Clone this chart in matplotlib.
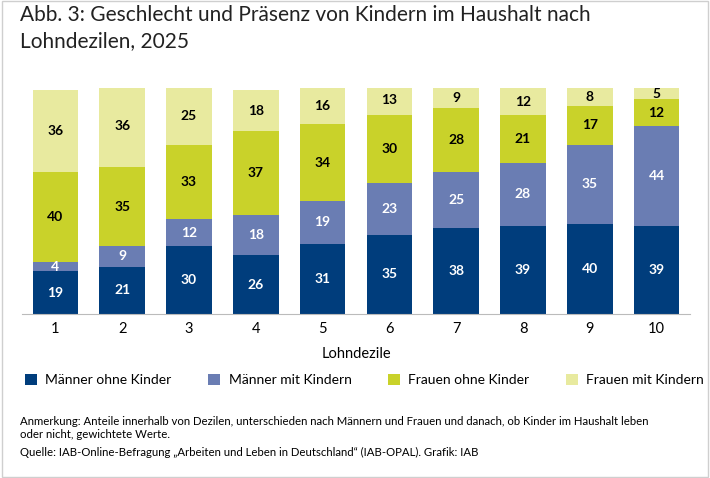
import matplotlib
matplotlib.use("Agg")
import matplotlib.pyplot as plt
from matplotlib.patches import Rectangle

plt.rcParams['font.family'] = ['Lato', 'DejaVu Sans']

deciles = ["1","2","3","4","5","6","7","8","9","10"]
maenner_ohne = [19,21,30,26,31,35,38,39,40,39]
maenner_mit = [4,9,12,18,19,23,25,28,35,44]
frauen_ohne = [40,35,33,37,34,30,28,21,17,12]
frauen_mit = [36,36,25,18,16,13,9,12,8,5]
series = [("Männer ohne Kinder", maenner_ohne, "#003d7c", "white"),
          ("Männer mit Kindern", maenner_mit, "#6a7db3", "white"),
          ("Frauen ohne Kinder", frauen_ohne, "#c9d22a", "black"),
          ("Frauen mit Kindern", frauen_mit, "#e8ea9f", "black")]

W, H = 710, 478
fig = plt.figure(figsize=(W/100, H/100), dpi=100)
fig.patches.append(Rectangle((0.003, 0.003), 0.994, 0.994, transform=fig.transFigure,
                             fill=False, edgecolor="#cfcfcf", lw=1))
ax = fig.add_axes([22/W, 1-314/H, (690-22)/W, (314-88)/H])
x = range(len(deciles))
bottom = [0]*10
for name, vals, col, tc in series:
    ax.bar(x, vals, bottom=bottom, width=0.68, color=col, label=name)
    for i, v in enumerate(vals):
        ax.text(i, bottom[i]+v/2, str(v), ha="center", va="center", color=tc,
                fontsize=10, fontweight="bold")
    bottom = [b+v for b, v in zip(bottom, vals)]
ax.set_xlim(-0.5, 9.5)
ax.set_ylim(0, 100)
ax.set_yticks([])
for s in ["top", "right", "left"]:
    ax.spines[s].set_visible(False)
ax.spines["bottom"].set_color("#bbbbbb")
ax.set_xticks(list(x))
ax.set_xticklabels(deciles, fontsize=10.5)
ax.tick_params(axis="x", length=0, pad=6)
ax.set_xlabel("Lohndezile", fontsize=10.5, labelpad=8)

fig.text(20/W, 1-28/H, "Abb. 3: Geschlecht und Präsenz von Kindern im Haushalt nach\nLohndezilen, 2025",
         fontsize=15, va="center", linespacing=1.35, color="#222222")
fig.legend(loc="center left", bbox_to_anchor=(12/W, 1-380/H), ncol=4, frameon=False,
           fontsize=10, handlelength=0.9, handleheight=0.9, columnspacing=2.6, handletextpad=0.6)
fig.text(20/W, 1-428/H, "Anmerkung: Anteile innerhalb von Dezilen, unterschieden nach Männern und Frauen und danach, ob Kinder im Haushalt leben\noder nicht, gewichtete Werte.",
         fontsize=8.2, va="center", linespacing=1.3)
fig.text(20/W, 1-452/H, "Quelle: IAB-Online-Befragung „Arbeiten und Leben in Deutschland“ (IAB-OPAL). Grafik: IAB",
         fontsize=8.2, va="center")
fig.savefig("out.png", dpi=100)
